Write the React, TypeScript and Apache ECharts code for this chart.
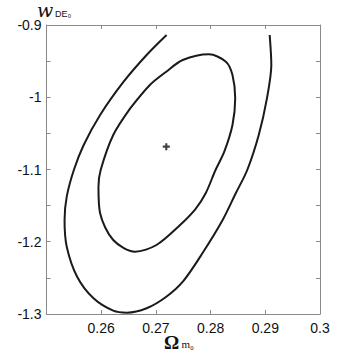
import React, { useEffect, useRef } from "react";
import * as echarts from "echarts";

const xTicks = [0.25, 0.26, 0.27, 0.28, 0.29, 0.3];
const yTicks = [-1.3, -1.2, -1.1, -1.0, -0.9];

// outer (2-sigma) contour, open at the top
const outerX = [0.27195, 0.2683, 0.2641, 0.2598, 0.2568, 0.255, 0.2537, 0.2533, 0.2537, 0.2556, 0.2586, 0.2622, 0.2647, 0.2683, 0.2719, 0.275, 0.2785, 0.2822, 0.2846, 0.2867, 0.2888, 0.2903, 0.2911, 0.2908];
const outerY = [-0.9138, -0.9415, -0.9785, -1.0246, -1.0661, -1.1007, -1.1376, -1.1699, -1.2069, -1.2484, -1.2783, -1.2954, -1.2982, -1.2921, -1.2761, -1.2545, -1.216, -1.1699, -1.1329, -1.1007, -1.0522, -1.0015, -0.9554, -0.9138];

// inner (1-sigma) contour, closed
const innerX = [0.2653, 0.2689, 0.2719, 0.2749, 0.2797, 0.2828, 0.284, 0.2845, 0.284, 0.2825, 0.2809, 0.2791, 0.27723, 0.27432, 0.2701, 0.2662, 0.2622, 0.2598, 0.2595, 0.2599, 0.2622, 0.2653];
const innerY = [-1.0153, -0.983, -0.9646, -0.9484, -0.9406, -0.9508, -0.9692, -1.0015, -1.0384, -1.0754, -1.1007, -1.1329, -1.1547, -1.1775, -1.2045, -1.2138, -1.1976, -1.1606, -1.1238, -1.1007, -1.0522, -1.0153];

const bestFit = [0.2719, -1.0684];

const axisGray = "#8a8a8a";
const labelFont = "'Liberation Sans Narrow', 'Liberation Sans', Arial, sans-serif";

export default function App() {
  const ref = useRef<HTMLDivElement>(null);
  useEffect(() => {
    document.body.style.margin = "0";
    if (!ref.current) return;
    const chart = echarts.init(ref.current, null, { renderer: "svg" });
    const fmtX = (v: number) => (Math.abs(v - 0.25) < 1e-6 ? "" : String(Number(v.toFixed(2))));
    const fmtY = (v: number) => String(Number(v.toFixed(2)));
    const outer = outerX.map((x, i) => [x, outerY[i]]);
    const inner = innerX.map((x, i) => [x, innerY[i]]);
    chart.setOption({
      animation: false,
      grid: { left: 46.5, right: 34, top: 25, bottom: 40, containLabel: false },
      xAxis: [
        {
          type: "value",
          min: xTicks[0],
          max: xTicks[xTicks.length - 1],
          interval: 0.01,
          position: "bottom",
          axisLine: { show: true, onZero: false, lineStyle: { color: axisGray, width: 1 } },
          axisTick: { show: true, inside: true, length: 4, lineStyle: { color: axisGray } },
          axisLabel: { formatter: fmtX, color: "#111", fontSize: 14, lineHeight: 13, fontFamily: labelFont, margin: 7 },
          splitLine: { show: false },
        },
        {
          type: "value",
          min: xTicks[0],
          max: xTicks[xTicks.length - 1],
          interval: 0.01,
          position: "top",
          axisLine: { show: true, onZero: false, lineStyle: { color: axisGray, width: 1 } },
          axisTick: { show: true, inside: true, length: 4, lineStyle: { color: axisGray } },
          axisLabel: { show: false },
          splitLine: { show: false },
        },
      ],
      yAxis: [
        {
          type: "value",
          min: yTicks[0],
          max: yTicks[yTicks.length - 1],
          interval: 0.1,
          position: "left",
          axisLine: { show: true, onZero: false, lineStyle: { color: axisGray, width: 1 } },
          axisTick: { show: true, inside: true, length: 4, lineStyle: { color: axisGray } },
          minorTick: { show: true, splitNumber: 2, length: 4, lineStyle: { color: axisGray } },
          axisLabel: { formatter: fmtY, color: "#111", fontSize: 14, fontFamily: labelFont, margin: 5 },
          splitLine: { show: false },
        },
        {
          type: "value",
          min: yTicks[0],
          max: yTicks[yTicks.length - 1],
          interval: 0.1,
          position: "right",
          axisLine: { show: true, onZero: false, lineStyle: { color: axisGray, width: 1 } },
          axisTick: { show: true, inside: true, length: 4, lineStyle: { color: axisGray } },
          minorTick: { show: true, splitNumber: 2, length: 4, lineStyle: { color: axisGray } },
          axisLabel: { show: false },
          splitLine: { show: false },
        },
      ],
      graphic: [
        {
          type: "text",
          x: 37,
          y: 19.5,
          style: {
            text: "w",
            fontFamily: "'DejaVu Serif', 'Liberation Serif', serif",
            fontStyle: "italic",
            fontSize: 19,
            fill: "#111",
            textVerticalAlign: "bottom",
          },
        },
        {
          type: "text",
          x: 55,
          y: 18,
          style: {
            text: "DE₀",
            fontFamily: "'Liberation Sans', Arial, sans-serif",
            fontSize: 9,
            fill: "#111",
            textVerticalAlign: "bottom",
          },
        },
        {
          type: "text",
          x: 164,
          y: 348.5,
          style: {
            text: "Ω",
            fontFamily: "'Liberation Serif', 'DejaVu Serif', serif",
            fontWeight: "bold",
            fontSize: 19,
            lineHeight: 13,
            fill: "#111",
            textVerticalAlign: "bottom",
          },
        },
        {
          type: "text",
          x: 181.5,
          y: 349,
          style: {
            text: "m₀",
            fontFamily: "'Liberation Serif', serif",
            fontSize: 11,
            fill: "#111",
            textVerticalAlign: "bottom",
          },
        },
      ],
      series: [
        {
          type: "line",
          data: outer,
          smooth: 0.3,
          showSymbol: false,
          lineStyle: { color: "#1a1a1a", width: 2 },
          xAxisIndex: 0,
          yAxisIndex: 0,
        },
        {
          type: "line",
          data: inner,
          smooth: 0.3,
          showSymbol: false,
          lineStyle: { color: "#1a1a1a", width: 2 },
          xAxisIndex: 0,
          yAxisIndex: 0,
        },
        {
          type: "scatter",
          data: [bestFit],
          symbol: "path://M3.5,0H6.5V3.5H10V6.5H6.5V10H3.5V6.5H0V3.5H3.5Z",
          symbolSize: 7,
          itemStyle: { color: "#111" },
          xAxisIndex: 0,
          yAxisIndex: 0,
        },
      ],
    });
    return () => chart.dispose();
  }, []);
  return <div ref={ref} style={{ width: 354, height: 354 }} />;
}
